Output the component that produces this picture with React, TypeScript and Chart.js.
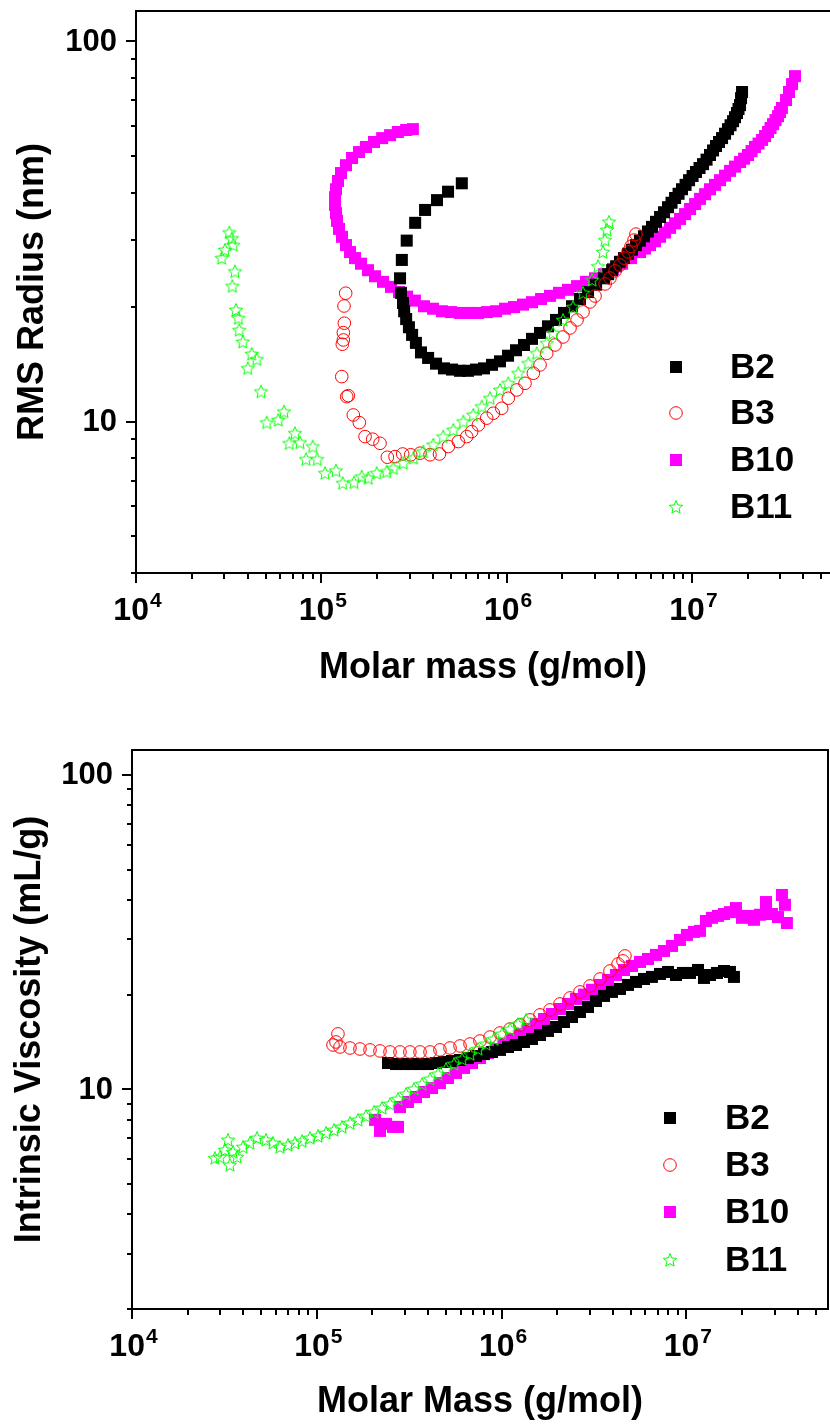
import React, { useEffect, useRef } from 'react';
import { Chart, registerables } from 'chart.js';

Chart.register(...registerables);

const FONT = '"Liberation Sans", Arial, Helvetica, sans-serif';

// ---------------- Top panel: RMS radius (nm) vs molar mass (g/mol) ----------------
const rmsB2Mass = [5.73e5, 4.83e5, 4.21e5, 3.63e5, 3.21e5, 2.89e5, 2.72e5, 2.66e5, 2.69e5, 2.76e5, 2.80e5, 2.87e5, 2.97e5, 3.09e5, 3.24e5, 3.45e5, 3.77e5, 4.16e5, 4.59e5, 5.08e5, 5.60e5, 6.19e5, 6.84e5, 7.55e5, 8.34e5, 9.21e5, 1.018e6, 1.124e6, 1.241e6, 1.371e6, 1.514e6, 1.672e6, 1.847e6, 2.04e6, 2.254e6, 2.489e6, 2.75e6, 3.04e6, 3.35e6, 3.71e6, 4.09e6, 4.52e6, 4.99e6, 5.51e6, 6.09e6, 6.73e6, 7.43e6, 8.11e6, 8.84e6, 9.65e6, 1.052e7, 1.148e7, 1.252e7, 1.349e7, 1.454e7, 1.566e7, 1.667e7, 1.751e7, 1.818e7, 1.841e7, 1.864e7, 3.53e6, 3.9e6, 4.3e6, 4.75e6, 5.24e6, 5.79e6, 6.4e6, 7.07e6, 7.76e6, 8.47e6, 9.24e6, 1.008e7, 1.099e7, 1.199e7, 1.3e7, 1.4e7, 1.509e7, 1.616e7, 1.708e7, 1.784e7];
const rmsB2Radius = [42.3, 40.2, 38.2, 36.0, 33.3, 29.9, 26.6, 23.8, 21.8, 20.5, 19.5, 18.6, 17.7, 16.9, 16.1, 15.2, 14.7, 14.2, 13.8, 13.7, 13.6, 13.6, 13.7, 13.8, 14.1, 14.4, 14.9, 15.4, 15.9, 16.5, 17.1, 17.8, 18.5, 19.3, 20.1, 21.0, 21.9, 22.9, 23.8, 25.0, 26.3, 27.6, 29.1, 30.7, 32.5, 34.5, 36.6, 38.7, 40.8, 43.1, 45.3, 47.5, 50.2, 53.0, 55.6, 58.7, 61.6, 64.7, 67.9, 70.8, 73.5, 24.4, 25.6, 26.9, 28.3, 29.9, 31.6, 33.5, 35.5, 37.6, 39.7, 41.9, 44.2, 46.4, 48.8, 51.6, 54.3, 57.1, 60.1, 63.1, 66.3];

const rmsB3Mass = [1.354e5, 1.326e5, 1.331e5, 1.315e5, 1.315e5, 1.298e5, 1.289e5, 1.371e5, 1.399e5, 1.488e5, 1.604e5, 1.722e5, 1.894e5, 2.074e5, 2.271e5, 2.499e5, 2.75e5, 3.037e5, 3.41e5, 3.86e5, 4.34e5, 4.85e5, 5.49e5, 6.09e5, 6.48e5, 7.04e5, 7.81e5, 8.48e5, 9.41e5, 1.021e6, 1.134e6, 1.257e6, 1.394e6, 1.515e6, 1.646e6, 1.824e6, 2.016e6, 2.199e6, 2.399e6, 2.584e6, 2.819e6, 3.0e6, 3.4e6, 3.61e6, 3.85e6, 4.09e6, 4.3e6, 4.52e6, 4.69e6, 4.87e6, 4.99e6];
const rmsB3Radius = [21.75, 20.13, 18.14, 17.13, 16.39, 15.97, 13.13, 11.63, 11.7, 10.41, 9.94, 9.13, 8.99, 8.77, 8.06, 8.09, 8.22, 8.18, 8.26, 8.18, 8.22, 8.6, 8.86, 9.13, 9.41, 9.8, 10.21, 10.52, 10.84, 11.52, 12.11, 12.61, 13.4, 14.09, 15.12, 15.9, 16.69, 17.62, 18.5, 19.42, 20.63, 21.38, 23.0, 23.84, 24.89, 25.79, 26.9, 27.92, 28.9, 30.0, 31.1];

const rmsB10Mass = [3.12e5, 2.87e5, 2.59e5, 2.35e5, 2.13e5, 1.925e5, 1.743e5, 1.597e5, 1.465e5, 1.359e5, 1.277e5, 1.23e5, 1.2e5, 1.186e5, 1.186e5, 1.2e5, 1.215e5, 1.246e5, 1.293e5, 1.359e5, 1.429e5, 1.52e5, 1.638e5, 1.786e5, 1.949e5, 2.153e5, 2.378e5, 2.626e5, 2.9e5, 3.2e5, 3.58e5, 4.01e5, 4.48e5, 5.01e5, 5.6e5, 6.27e5, 7.01e5, 7.84e5, 8.77e5, 9.8e5, 1.096e6, 1.226e6, 1.371e6, 1.534e6, 1.715e6, 1.918e6, 2.145e6, 2.399e6, 2.683e6, 3.0e6, 3.35e6, 3.75e6, 4.2e6, 4.69e6, 5.25e6, 5.94e6, 6.73e6, 7.62e6, 8.63e6, 9.77e6, 1.106e7, 1.252e7, 1.418e7, 1.606e7, 1.818e7, 2.008e7, 2.19e7, 2.39e7, 2.575e7, 2.74e7, 2.915e7, 3.06e7, 3.22e7, 3.34e7, 3.47e7, 3.6e7, 5.58e6, 6.32e6, 7.16e6, 8.11e6, 9.18e6, 1.04e7, 1.177e7, 1.332e7, 1.509e7, 1.709e7, 1.911e7, 2.097e7, 2.288e7, 2.481e7, 2.656e7, 2.826e7, 2.987e7];
const rmsB10Radius = [58.7, 58.4, 57.7, 56.6, 55.6, 54.3, 52.7, 51.1, 49.3, 47.2, 45.0, 42.9, 40.8, 38.9, 37.1, 35.3, 33.7, 32.1, 30.6, 29.1, 27.9, 26.9, 26.0, 25.0, 24.1, 23.3, 22.6, 21.9, 21.3, 20.8, 20.1, 19.8, 19.5, 19.4, 19.3, 19.3, 19.3, 19.4, 19.5, 19.8, 20.0, 20.3, 20.6, 21.0, 21.4, 21.8, 22.2, 22.7, 23.3, 23.8, 24.4, 25.2, 26.0, 26.9, 27.9, 29.1, 30.6, 32.3, 34.1, 36.2, 38.5, 40.8, 43.1, 45.6, 48.1, 50.2, 52.7, 55.0, 57.7, 60.5, 63.5, 66.7, 70.0, 73.5, 77.1, 80.9, 28.5, 29.8, 31.4, 33.2, 35.1, 37.3, 39.6, 41.9, 44.3, 46.8, 49.1, 51.4, 53.8, 56.3, 59.1, 62.0, 65.1];

const rmsB11Mass = [3.19e4, 3.29e4, 3.35e4, 3.02e4, 2.9e4, 3.42e4, 3.31e4, 3.46e4, 3.57e4, 3.61e4, 3.77e4, 4.21e4, 4.48e4, 4.01e4, 4.73e4, 5.07e4, 5.86e4, 6.29e4, 7.21e4, 6.72e4, 7.67e4, 8.99e4, 8.27e4, 9.51e4, 1.047e5, 1.2e5, 1.305e5, 1.502e5, 1.652e5, 1.793e5, 1.99e5, 2.254e5, 2.447e5, 2.77e5, 3.14e5, 3.55e5, 4.02e5, 4.55e5, 5.16e5, 5.84e5, 6.61e5, 7.34e5, 8.14e5, 9.21e5, 1.021e6, 1.156e6, 1.31e6, 1.454e6, 1.646e6, 1.78e6, 2.016e6, 2.283e6, 2.584e6, 2.89e6, 3.11e6, 3.31e6, 3.4e6, 3.48e6, 3.57e6];
const rmsB11Radius = [31.4, 30.3, 29.1, 28.25, 26.9, 24.8, 22.7, 19.65, 18.7, 17.4, 16.2, 15.06, 14.58, 13.81, 11.99, 9.94, 10.1, 10.62, 9.32, 8.77, 8.81, 8.6, 7.96, 7.96, 7.32, 7.43, 6.89, 6.92, 7.17, 7.1, 7.32, 7.39, 7.54, 7.78, 8.02, 8.34, 8.69, 9.13, 9.51, 10.0, 10.41, 10.95, 11.52, 12.11, 12.61, 13.4, 14.23, 15.12, 16.07, 17.1, 18.5, 20.0, 21.8, 23.56, 25.6, 27.92, 30.0, 31.9, 33.5];

// ---------------- Bottom panel: intrinsic viscosity (mL/g) vs molar mass (g/mol) ----------------
const ivB2Mass = [2.428e5, 2.683e5, 2.965e5, 3.276e5, 3.619e5, 3.998e5, 4.416e5, 4.88e5, 5.39e5, 5.96e5, 6.58e5, 7.27e5, 8.03e5, 8.87e5, 9.8e5, 1.083e6, 1.197e6, 1.322e6, 1.461e6, 1.614e6, 1.783e6, 1.97e6, 2.176e6, 2.404e6, 2.656e6, 2.935e6, 3.242e6, 3.582e6, 3.957e6, 4.372e6, 4.83e6, 5.34e6, 5.9e6, 6.51e6, 7.2e6, 7.95e6, 8.79e6, 9.58e6, 1.046e7, 1.156e7, 1.245e7, 1.342e7, 1.464e7, 1.598e7, 1.721e7, 1.809e7];
const ivB2Visc = [12.12, 12.03, 12.03, 12.03, 12.03, 12.03, 12.12, 12.21, 12.3, 12.39, 12.57, 12.76, 12.94, 13.14, 13.34, 13.63, 13.83, 14.14, 14.45, 14.88, 15.33, 15.78, 16.37, 16.98, 17.61, 18.27, 19.09, 19.81, 20.4, 20.85, 21.47, 21.95, 22.43, 22.77, 23.27, 23.61, 23.09, 23.44, 23.44, 23.96, 22.6, 23.09, 23.44, 23.78, 23.61, 22.77];

const ivB3Mass = [1.302e5, 1.224e5, 1.335e5, 1.27e5, 1.512e5, 1.713e5, 1.941e5, 2.198e5, 2.49e5, 2.82e5, 3.19e5, 3.62e5, 4.1e5, 4.64e5, 5.26e5, 5.96e5, 6.75e5, 7.64e5, 8.66e5, 9.8e5, 1.11e6, 1.258e6, 1.425e6, 1.614e6, 1.828e6, 2.07e6, 2.345e6, 2.656e6, 3.01e6, 3.41e6, 3.86e6, 4.27e6, 4.54e6, 4.65e6];
const ivB3Visc = [15.0, 13.83, 13.63, 14.14, 13.53, 13.43, 13.34, 13.24, 13.14, 13.14, 13.14, 13.14, 13.14, 13.34, 13.53, 13.73, 13.93, 14.24, 14.66, 15.1, 15.54, 16.02, 16.62, 17.24, 17.88, 18.68, 19.52, 20.4, 21.31, 22.43, 23.78, 25.04, 25.6, 26.55];

const ivB10Mass = [2.065e5, 2.198e5, 2.369e5, 2.585e5, 2.75e5, 2.82e5, 3.115e5, 3.442e5, 3.803e5, 4.201e5, 4.64e5, 5.129e5, 5.666e5, 6.26e5, 6.917e5, 7.64e5, 8.44e5, 9.33e5, 1.03e6, 1.138e6, 1.258e6, 1.39e6, 1.535e6, 1.696e6, 1.874e6, 2.07e6, 2.287e6, 2.527e6, 2.792e6, 3.084e6, 3.41e6, 3.766e6, 4.16e6, 4.596e6, 5.077e6, 5.61e6, 6.197e6, 6.847e6, 7.565e6, 8.36e6, 9.23e6, 1.007e7, 1.099e7, 1.185e7, 1.276e7, 1.375e7, 1.482e7, 1.597e7, 1.721e7, 1.855e7, 2.0e7, 2.154e7, 2.321e7, 2.501e7, 2.696e7, 2.696e7, 2.905e7, 3.131e7, 3.29e7, 3.415e7, 3.5e7];
const ivB10Visc = [7.99, 7.37, 7.76, 7.59, 7.59, 8.78, 9.11, 9.45, 9.8, 10.09, 10.47, 10.86, 11.27, 11.69, 12.12, 12.57, 13.04, 13.43, 13.93, 14.45, 15.0, 15.54, 16.13, 16.73, 17.35, 18.0, 18.68, 19.38, 20.0, 20.73, 21.47, 22.26, 23.1, 23.96, 24.67, 25.41, 25.97, 26.75, 27.54, 28.57, 29.85, 30.97, 31.66, 31.9, 34.3, 35.1, 35.6, 36.1, 36.6, 37.7, 35.1, 35.6, 34.6, 35.9, 39.4, 36.4, 36.1, 35.3, 41.5, 38.6, 33.8];

const ivB11Mass = [2.812e4, 2.994e4, 3.186e4, 3.307e4, 3.391e4, 3.52e4, 3.7e4, 3.986e4, 4.35e4, 4.75e4, 5.31e4, 5.79e4, 6.32e4, 6.99e4, 7.62e4, 8.32e4, 9.19e4, 1.015e5, 1.121e5, 1.239e5, 1.369e5, 1.512e5, 1.671e5, 1.846e5, 2.04e5, 2.253e5, 2.49e5, 2.75e5, 3.039e5, 3.357e5, 3.71e5, 4.1e5, 4.53e5, 5.0e5, 5.53e5, 6.11e5, 6.75e5, 7.45e5, 8.24e5, 9.1e5, 1.005e6, 1.11e6, 1.227e6, 1.356e6];
const ivB11Visc = [6.04, 6.09, 6.41, 6.9, 5.74, 6.32, 6.09, 6.55, 6.75, 7.0, 6.9, 6.75, 6.55, 6.65, 6.75, 6.84, 7.0, 7.1, 7.26, 7.42, 7.59, 7.81, 7.99, 8.22, 8.47, 8.72, 8.98, 9.31, 9.66, 10.02, 10.39, 10.78, 11.18, 11.6, 12.03, 12.48, 12.94, 13.43, 13.93, 14.45, 15.0, 15.54, 16.13, 16.62];

// ---------------- Shared labels ----------------
const seriesNames = ['B2', 'B3', 'B10', 'B11'];
const xTickExponents = [4, 5, 6, 7];
const yTickLabels = [10, 100];

const COLORS = { B2: '#000000', B3: '#FF0000', B10: '#FF00FF', B11: '#00FF00' };

function makeStar(size: number, color: string) {
  const c = document.createElement('canvas');
  c.width = size;
  c.height = size;
  const ctx = c.getContext('2d')!;
  const cx = size / 2;
  const cy = size / 2 + 0.5;
  const R = size / 2 - 1;
  const r = R * 0.45;
  ctx.beginPath();
  for (let i = 0; i < 10; i++) {
    const ang = -Math.PI / 2 + (i * Math.PI) / 5;
    const rad = i % 2 === 0 ? R : r;
    const px = cx + rad * Math.cos(ang);
    const py = cy + rad * Math.sin(ang);
    if (i === 0) ctx.moveTo(px, py);
    else ctx.lineTo(px, py);
  }
  ctx.closePath();
  ctx.strokeStyle = color;
  ctx.lineWidth = 1;
  ctx.stroke();
  return c;
}

function pairs(xs: number[], ys: number[]) {
  return xs.map((x, i) => ({ x, y: ys[i] }));
}

type PanelCfg = {
  offsetY: number;
  padTop: number;
  padRight: number;
  yWidth: number;
  xHeight: number;
  xMin: number;
  xMax: number;
  yMin: number;
  yMax: number;
  xTitle: string;
  yTitle: string;
  xTitlePad: number;
  yTitlePad: number;
  xLabelBaseline: number;
  legendMarkerX: number;
  legendTextX: number;
  legendRows: number[];
  rightBorder: boolean;
};

const topCfg: PanelCfg = {
  offsetY: 0,
  padTop: 11,
  padRight: 0,
  yWidth: 136,
  xHeight: 141,
  xMin: 1e4,
  xMax: 5.56e7,
  yMin: 4,
  yMax: 120,
  xTitle: 'Molar mass (g/mol)',
  yTitle: 'RMS Radius (nm)',
  xTitlePad: 24,
  yTitlePad: 11,
  xLabelBaseline: 47,
  legendMarkerX: 676,
  legendTextX: 730,
  legendRows: [367, 413, 460, 507],
  rightBorder: false,
};

const bottomCfg: PanelCfg = {
  offsetY: 714,
  padTop: 36,
  padRight: 2,
  yWidth: 132,
  xHeight: 119,
  xMin: 1e4,
  xMax: 5.84e7,
  yMin: 2,
  yMax: 120,
  xTitle: 'Molar Mass (g/mol)',
  yTitle: 'Intrinsic Viscosity (mL/g)',
  xTitlePad: 4,
  yTitlePad: 8,
  xLabelBaseline: 47,
  legendMarkerX: 670,
  legendTextX: 725,
  legendRows: [404, 451, 498, 546],
  rightBorder: true,
};

function buildDatasets(series: { x: number[]; y: number[] }[], star: HTMLCanvasElement) {
  return [
    {
      label: seriesNames[0],
      data: pairs(series[0].x, series[0].y),
      pointStyle: 'rect',
      pointRadius: 8.5,
      backgroundColor: COLORS.B2,
      borderWidth: 0,
      order: 2,
    },
    {
      label: seriesNames[1],
      data: pairs(series[1].x, series[1].y),
      pointStyle: 'circle',
      pointRadius: 6.3,
      backgroundColor: 'rgba(0,0,0,0)',
      borderColor: COLORS.B3,
      borderWidth: 1,
      order: 1,
    },
    {
      label: seriesNames[2],
      data: pairs(series[2].x, series[2].y),
      pointStyle: 'rect',
      pointRadius: 8.5,
      backgroundColor: COLORS.B10,
      borderWidth: 0,
      order: 3,
    },
    {
      label: seriesNames[3],
      data: pairs(series[3].x, series[3].y),
      pointStyle: star,
      pointRadius: 7,
      backgroundColor: 'rgba(0,0,0,0)',
      borderColor: COLORS.B11,
      borderWidth: 1,
      order: 0,
    },
  ];
}

function makeDecorPlugin(cfg: PanelCfg, star: HTMLCanvasElement) {
  return {
    id: 'decor',
    afterDraw(chart: any) {
      const { ctx, chartArea: a } = chart;
      const xs = chart.scales.x;
      const ys = chart.scales.y;
      ctx.save();
      ctx.strokeStyle = '#000';
      ctx.lineWidth = 2;
      ctx.lineCap = 'butt';
      // frame
      ctx.beginPath();
      ctx.moveTo(a.left - 1, Math.round(a.top));
      ctx.lineTo(a.right + 1, Math.round(a.top));
      if (cfg.rightBorder) {
        ctx.moveTo(Math.round(a.right), a.top);
        ctx.lineTo(Math.round(a.right), a.bottom);
      }
      ctx.stroke();
      // x tick marks
      ctx.beginPath();
      for (let e = 4; e <= 8; e++) {
        for (let m = 1; m <= 9; m++) {
          const v = m * Math.pow(10, e);
          if (v < xs.min * 0.999 || v > xs.max * 1.001) continue;
          const px = Math.round(xs.getPixelForValue(v));
          const len = m === 1 ? 10 : 6;
          ctx.moveTo(px, a.bottom);
          ctx.lineTo(px, a.bottom + len);
        }
      }
      // y tick marks
      for (let e = 0; e <= 2; e++) {
        for (let m = 1; m <= 9; m++) {
          const v = m * Math.pow(10, e);
          if (v < ys.min * 0.999 || v > ys.max * 1.001) continue;
          const py = Math.round(ys.getPixelForValue(v));
          const len = m === 1 ? 10 : 5;
          ctx.moveTo(a.left, py);
          ctx.lineTo(a.left - len, py);
        }
      }
      ctx.stroke();

      // y tick labels
      ctx.fillStyle = '#000';
      ctx.font = `bold 31px ${FONT}`;
      ctx.textAlign = 'right';
      ctx.textBaseline = 'middle';
      yTickLabels.forEach((v) => {
        ctx.fillText(String(v), a.left - 19, ys.getPixelForValue(v) + 1);
      });

      // x tick labels 10^n
      ctx.textBaseline = 'alphabetic';
      ctx.textAlign = 'left';
      xTickExponents.forEach((e) => {
        const px = xs.getPixelForValue(Math.pow(10, e));
        ctx.font = `bold 32px ${FONT}`;
        const wBase = ctx.measureText('10').width;
        ctx.font = `bold 21px ${FONT}`;
        const wSup = ctx.measureText(String(e)).width;
        const x0 = px - (wBase + wSup) / 2 + 1;
        const yb = a.bottom + cfg.xLabelBaseline;
        ctx.font = `bold 32px ${FONT}`;
        ctx.fillText('10', x0, yb);
        ctx.font = `bold 21px ${FONT}`;
        ctx.fillText(String(e), x0 + wBase + 1, yb - 13);
      });

      // legend
      ctx.font = `bold 35px ${FONT}`;
      ctx.textBaseline = 'middle';
      ctx.textAlign = 'left';
      seriesNames.forEach((name, i) => {
        const y = cfg.legendRows[i];
        const x = cfg.legendMarkerX;
        if (name === 'B2' || name === 'B10') {
          ctx.fillStyle = (COLORS as any)[name];
          ctx.fillRect(x - 6, y - 6, 12, 12);
        } else if (name === 'B3') {
          ctx.strokeStyle = COLORS.B3;
          ctx.lineWidth = 1;
          ctx.beginPath();
          ctx.arc(x, y, 6.3, 0, Math.PI * 2);
          ctx.stroke();
        } else {
          ctx.drawImage(star, x - star.width / 2, y - star.height / 2);
        }
        ctx.fillStyle = '#000';
        ctx.fillText(name, cfg.legendTextX, y + 1);
      });
      ctx.restore();
    },
  };
}

function Panel({ cfg, series }: { cfg: PanelCfg; series: { x: number[]; y: number[] }[] }) {
  const ref = useRef<HTMLCanvasElement>(null);
  useEffect(() => {
    const canvas = ref.current!;
    const star = makeStar(16, COLORS.B11);
    const titleFont = { family: FONT, size: 36, weight: 'bold' as const };
    const chart = new Chart(canvas, {
      type: 'scatter',
      data: { datasets: buildDatasets(series, star) as any },
      options: {
        responsive: false,
        animation: false,
        devicePixelRatio: 1,
        events: [],
        layout: { autoPadding: false, padding: { left: 0, right: cfg.padRight, top: cfg.padTop, bottom: 0 } },
        plugins: { legend: { display: false }, tooltip: { enabled: false } },
        scales: {
          x: {
            type: 'logarithmic',
            position: 'bottom',
            min: cfg.xMin,
            max: cfg.xMax,
            grid: { display: false },
            border: { display: true, color: '#000', width: 2 },
            ticks: { display: false },
            title: {
              display: true,
              text: cfg.xTitle,
              color: '#000',
              font: titleFont,
              padding: { top: 0, bottom: cfg.xTitlePad },
            },
            afterFit: (scale: any) => {
              scale.height = cfg.xHeight;
            },
          },
          y: {
            type: 'logarithmic',
            position: 'left',
            min: cfg.yMin,
            max: cfg.yMax,
            grid: { display: false },
            border: { display: true, color: '#000', width: 2 },
            ticks: { display: false },
            title: {
              display: true,
              text: cfg.yTitle,
              color: '#000',
              font: titleFont,
              padding: { top: cfg.yTitlePad, bottom: 0 },
            },
            afterFit: (scale: any) => {
              scale.width = cfg.yWidth;
            },
          },
        },
      } as any,
      plugins: [makeDecorPlugin(cfg, star)],
    });
    return () => chart.destroy();
  }, []);
  return (
    <canvas
      ref={ref}
      width={830}
      height={714}
      style={{ position: 'absolute', left: 0, top: cfg.offsetY, width: 830, height: 714, display: 'block' }}
    />
  );
}

export default function App() {
  const topSeries = [
    { x: rmsB2Mass, y: rmsB2Radius },
    { x: rmsB3Mass, y: rmsB3Radius },
    { x: rmsB10Mass, y: rmsB10Radius },
    { x: rmsB11Mass, y: rmsB11Radius },
  ];
  const bottomSeries = [
    { x: ivB2Mass, y: ivB2Visc },
    { x: ivB3Mass, y: ivB3Visc },
    { x: ivB10Mass, y: ivB10Visc },
    { x: ivB11Mass, y: ivB11Visc },
  ];
  return (
    <div style={{ position: 'absolute', left: 0, top: 0, width: 830, height: 1428, background: '#fff', overflow: 'hidden' }}>
      <Panel cfg={topCfg} series={topSeries} />
      <Panel cfg={bottomCfg} series={bottomSeries} />
    </div>
  );
}
